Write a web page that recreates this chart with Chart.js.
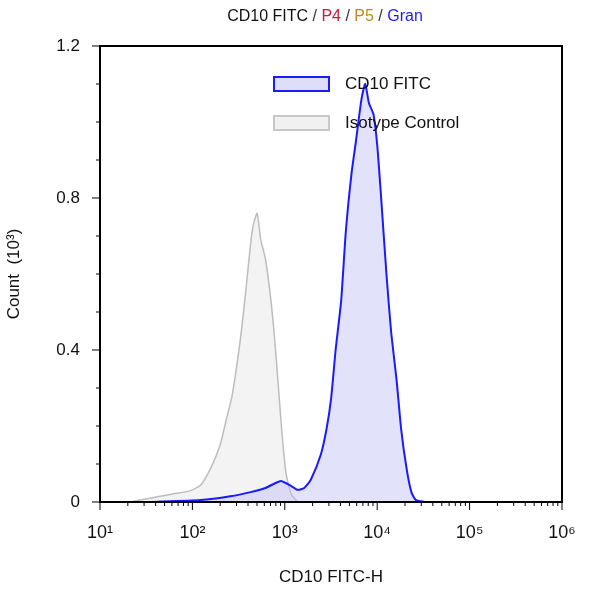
<!DOCTYPE html>
<html><head><meta charset="utf-8">
<script src="https://cdn.jsdelivr.net/npm/chart.js@4"></script>
<style>body{margin:0;background:#fff}#wrap{width:593px;height:600px}</style>
</head><body><div id="wrap"><canvas id="c"></canvas></div>
<script>
// x values are log10 of fluorescence, y values are counts in thousands
const isoX = [1.33,1.54,1.76,1.98,2.09,2.20,2.30,2.36,2.43,2.52,2.58,2.63,2.66,2.70,2.74,2.79,2.85,2.90,2.96,3.01,3.07,3.14];
const isoY = [0,0.01,0.02,0.03,0.045,0.09,0.15,0.21,0.28,0.43,0.56,0.68,0.73,0.76,0.69,0.64,0.53,0.40,0.21,0.08,0.02,0];
const cdX = [1.54,2.09,2.41,2.63,2.79,2.90,2.96,3.07,3.14,3.21,3.28,3.39,3.45,3.50,3.55,3.61,3.66,3.72,3.77,3.83,3.87,3.91,3.96,4.00,4.04,4.10,4.15,4.21,4.26,4.32,4.37,4.42,4.53];
const cdY = [0,0.005,0.015,0.026,0.037,0.05,0.055,0.042,0.032,0.037,0.058,0.125,0.19,0.27,0.40,0.53,0.71,0.86,0.95,1.06,1.10,1.05,1.02,0.94,0.81,0.60,0.45,0.32,0.19,0.085,0.026,0.005,0];
const sup = {1:'¹',2:'²',3:'³',4:'⁴',5:'⁵',6:'⁶'};
const FONT = 'Arial, "Liberation Sans", sans-serif';

const decor = {
  id: 'decor',
  afterDraw(chart) {
    const {ctx, chartArea: a, scales: {x, y}} = chart;
    ctx.save();
    ctx.strokeStyle = '#000'; ctx.lineWidth = 2;
    ctx.strokeRect(a.left, a.top, a.right - a.left, a.bottom - a.top);
    ctx.lineWidth = 1;
    // x ticks: major + minor
    for (let d = 1; d <= 6; d++) {
      for (let m = 1; m <= 9; m++) {
        const v = d + Math.log10(m);
        if (v > 6) break;
        const px = x.getPixelForValue(v);
        ctx.beginPath(); ctx.moveTo(px, a.bottom); ctx.lineTo(px, a.bottom + (m === 1 ? 8 : 4)); ctx.stroke();
      }
    }
    for (let k = 0; k <= 12; k++) {
      const py = y.getPixelForValue(k * 0.1);
      const major = k % 4 === 0;
      ctx.beginPath(); ctx.moveTo(a.left, py); ctx.lineTo(a.left - (major ? 8 : 4), py); ctx.stroke();
    }
    // title with coloured parts
    ctx.font = '16px ' + FONT; ctx.textBaseline = 'middle';
    const parts = [['CD10 FITC ', '#111'], ['/ ', '#333'], ['P4', '#c0203a'], [' / ', '#333'], ['P5', '#c08a20'], [' / ', '#333'], ['Gran', '#1a1aff']];
    let w = parts.reduce((s, p) => s + ctx.measureText(p[0]).width, 0);
    let tx = 325 - w / 2;
    for (const [t, c] of parts) { ctx.fillStyle = c; ctx.fillText(t, tx, 17); tx += ctx.measureText(t).width; }
    // legend
    const items = [['CD10 FITC', '#1a1aff', 'rgba(200,200,245,0.6)'], ['Isotype Control', '#c8c8c8', 'rgba(235,235,235,0.7)']];
    items.forEach(([t, s, f], i) => {
      const yy = 84 + i * 39;
      ctx.fillStyle = f; ctx.fillRect(274, yy - 7, 55, 14);
      ctx.strokeStyle = s; ctx.lineWidth = 2; ctx.strokeRect(274, yy - 7, 55, 14);
      ctx.fillStyle = '#111'; ctx.font = '17px ' + FONT; ctx.fillText(t, 345, yy);
    });
    ctx.restore();
  }
};

new Chart(document.getElementById('c'), {
  type: 'scatter',
  data: {
    datasets: [{
      label: 'Isotype Control', order: 1,
      data: isoX.map((v, i) => ({x: v, y: isoY[i]})),
      showLine: true, pointRadius: 0, borderColor: '#bdbdbd', borderWidth: 1.5,
      backgroundColor: 'rgba(235,235,235,0.6)', fill: 'origin', tension: 0.2
    }, {
      label: 'CD10 FITC', order: 0,
      data: cdX.map((v, i) => ({x: v, y: cdY[i]})),
      showLine: true, pointRadius: 0, borderColor: '#1a1aff', borderWidth: 2,
      backgroundColor: 'rgba(190,190,245,0.45)', fill: 'origin', tension: 0.2
    }]
  },
  options: {
    responsive: true, maintainAspectRatio: false, animation: false,
    layout: {padding: {top: 46, right: 31, bottom: 8, left: 0}},
    plugins: {legend: {display: false}, tooltip: {enabled: false}},
    scales: {
      x: {
        type: 'linear', min: 1, max: 6,
        grid: {display: false}, border: {display: false},
        ticks: {stepSize: 1, color: '#111', font: {size: 18, family: FONT}, padding: 12,
          callback: v => Number.isInteger(v) ? '10' + sup[v] : ''},
        title: {display: true, text: 'CD10 FITC-H', color: '#111', font: {size: 17, family: FONT}, padding: {top: 12}}
      },
      y: {
        min: 0, max: 1.2,
        afterFit: s => { s.width = 100; },
        grid: {display: false}, border: {display: false},
        ticks: {stepSize: 0.4, color: '#111', font: {size: 17, family: FONT}, padding: 12,
          callback: v => v === 0 ? '0' : v.toFixed(1)},
        title: {display: true, text: 'Count  (10³)', color: '#111', font: {size: 17, family: FONT}}
      }
    }
  },
  plugins: [decor]
});
</script></body></html>
